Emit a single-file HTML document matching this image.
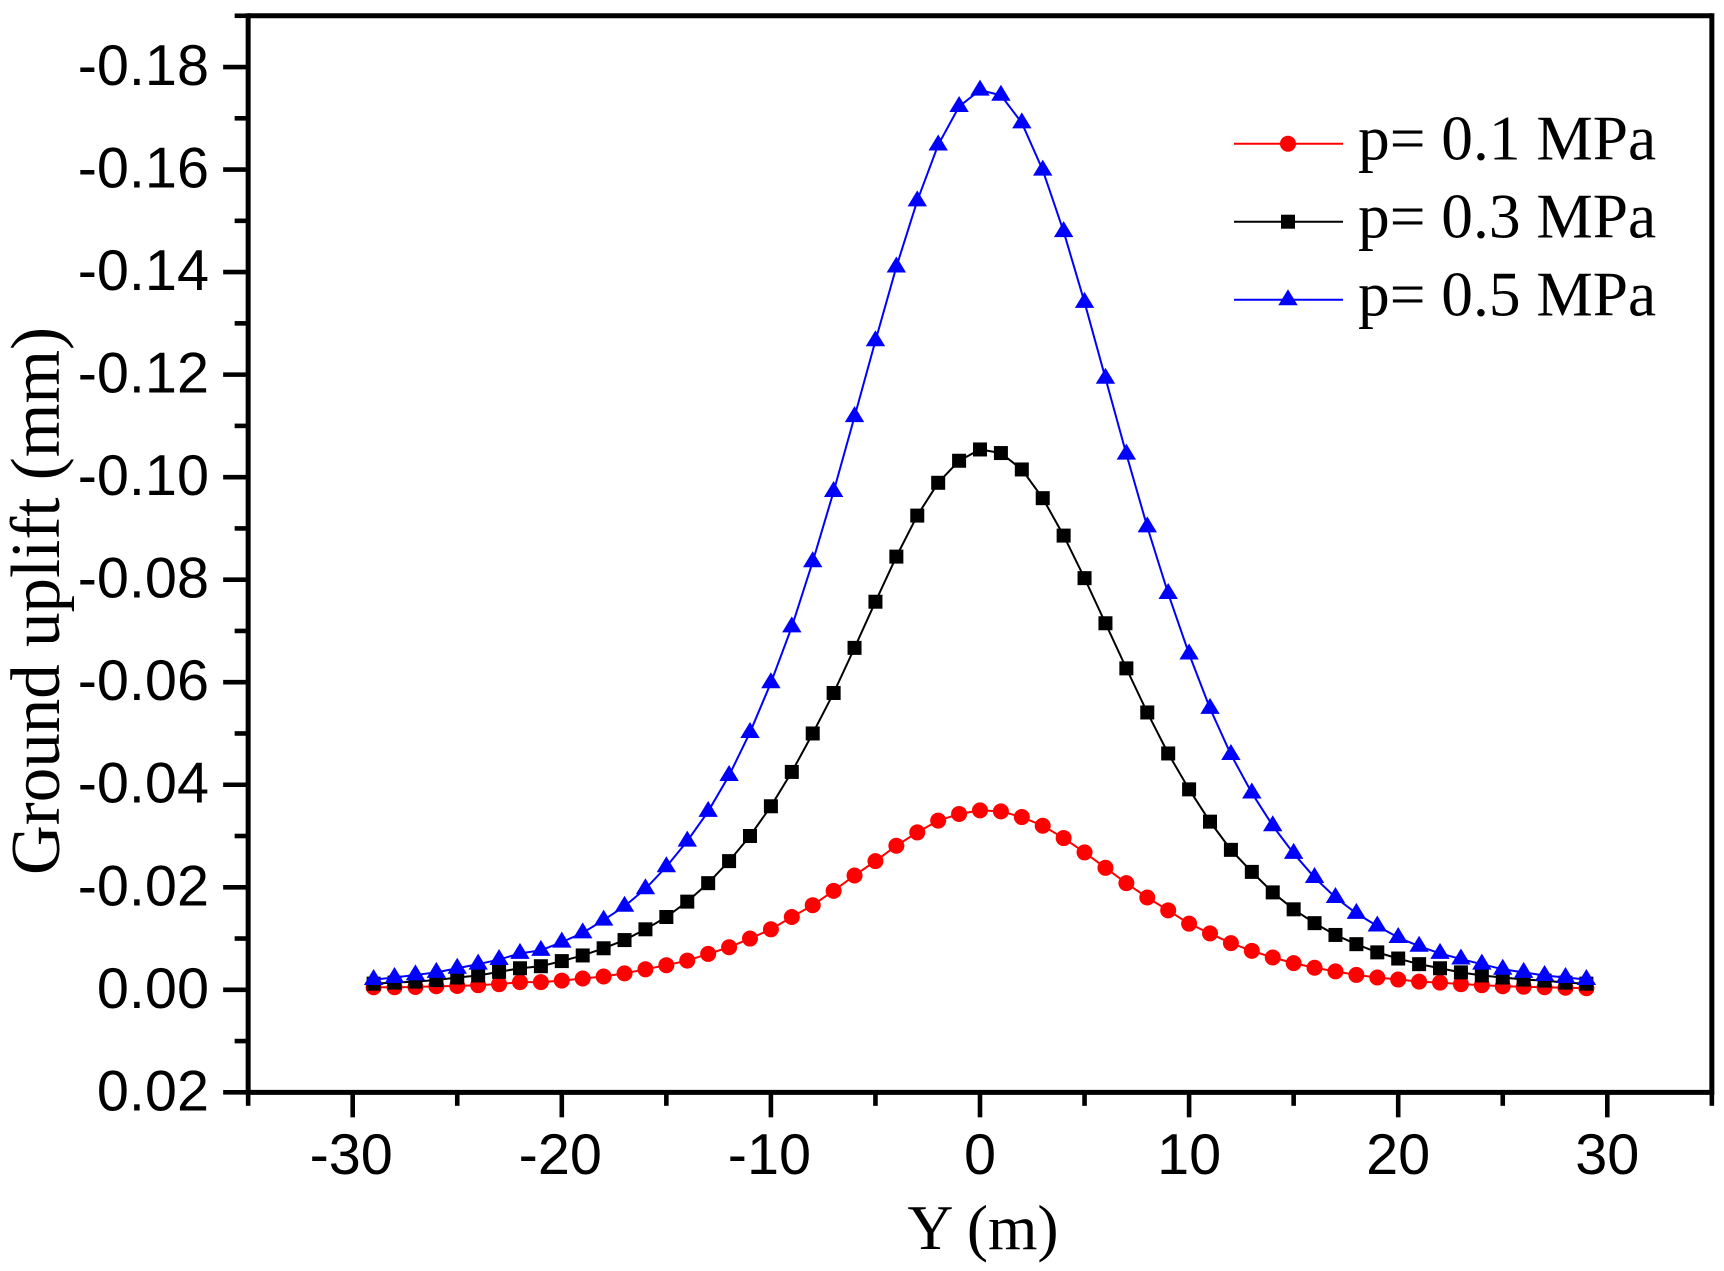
<!DOCTYPE html>
<html lang="en">
<head>
<meta charset="utf-8">
<title>Ground uplift chart</title>
<style>
html,body{margin:0;padding:0;background:#fff;}
svg{display:block;}
.tick-label{font-family:"Liberation Sans",sans-serif;font-size:57.6px;fill:#000;}
.axis-title{font-family:"Liberation Serif",serif;fill:#000;}
.legend-label{font-family:"Liberation Serif",serif;font-size:63.4px;fill:#000;}
</style>
</head>
<body>
<svg id="chart" xmlns="http://www.w3.org/2000/svg" width="1724" height="1271" viewBox="0 0 1724 1271"></svg>
<script>
const positions = [-29,-28,-27,-26,-25,-24,-23,-22,-21,-20,-19,-18,-17,-16,-15,-14,-13,-12,-11,-10,-9,-8,-7,-6,-5,-4,-3,-2,-1,0,1,2,3,4,5,6,7,8,9,10,11,12,13,14,15,16,17,18,19,20,21,22,23,24,25,26,27,28,29];
const upliftP01 = [-.0005,-.0005,-.00055,-.0007,-.00075,-.0009,-.0011,-.0015,-.0015,-.0018,-.0022,-.0026,-.0032,-.0040,-.0048,-.0057,-.0070,-.0083,-.0100,-.0118,-.0142,-.0165,-.0193,-.0223,-.0251,-.0281,-.0307,-.0330,-.0343,-.0350,-.0348,-.0337,-.0320,-.0296,-.0268,-.0238,-.0208,-.0180,-.0155,-.0129,-.0110,-.0091,-.0076,-.0063,-.0052,-.0043,-.0036,-.0029,-.0024,-.0020,-.0016,-.0014,-.0011,-.0009,-.0007,-.0006,-.0005,-.0004,-.0003];
const upliftP03 = [-.0012,-.0014,-.0016,-.0019,-.0024,-.0028,-.0035,-.0042,-.0046,-.0056,-.0067,-.0081,-.0097,-.0118,-.0142,-.0172,-.0208,-.0251,-.0300,-.0358,-.0425,-.0500,-.0579,-.0667,-.0757,-.0845,-.0925,-.0989,-.1032,-.1054,-.1047,-.1015,-.0959,-.0886,-.0803,-.0715,-.0627,-.0541,-.0461,-.0391,-.0328,-.0273,-.0230,-.0190,-.0157,-.0130,-.0107,-.0089,-.0073,-.0061,-.0050,-.0042,-.0034,-.0028,-.0024,-.0020,-.0018,-.0014,-.0012];
const upliftP05 = [-.0020,-.0024,-.0029,-.0034,-.0042,-.0050,-.0059,-.0071,-.0077,-.0093,-.0111,-.0136,-.0163,-.0197,-.0240,-.0290,-.0348,-.0418,-.0502,-.0599,-.0708,-.0835,-.0972,-.1118,-.1266,-.1410,-.1539,-.1648,-.1723,-.1755,-.1745,-.1691,-.1599,-.1479,-.1341,-.1193,-.1045,-.0903,-.0773,-.0655,-.0549,-.0459,-.0384,-.0320,-.0266,-.0219,-.0180,-.0149,-.01245,-.0102,-.0085,-.0071,-.0060,-.0050,-.0040,-.0034,-.0028,-.0024,-.0020];
const xMajorTicks = [-30,-20,-10,0,10,20,30];
const xMinorTicks = [-35,-25,-15,-5,5,15,25,35];
const yMajorTicks = [-0.18,-0.16,-0.14,-0.12,-0.10,-0.08,-0.06,-0.04,-0.02,0,0.02];
const yMinorTicks = [-0.19,-0.17,-0.15,-0.13,-0.11,-0.09,-0.07,-0.05,-0.03,-0.01,0.01];
const xTickLabels = ["-30","-20","-10","0","10","20","30"];
const yTickLabels = ["-0.18","-0.16","-0.14","-0.12","-0.10","-0.08","-0.06","-0.04","-0.02","0.00","0.02"];
const seriesNames = ["p= 0.1 MPa","p= 0.3 MPa","p= 0.5 MPa"];

const xScale = v => 980 + 20.91 * v;
const yScale = v => 989.8 + 5126.5 * v;

const svg = document.getElementById('chart');
const NS = 'http://www.w3.org/2000/svg';
function mk(tag, attrs, parent) {
  const el = document.createElementNS(NS, tag);
  for (const k in attrs) el.setAttribute(k, attrs[k]);
  (parent || svg).appendChild(el);
  return el;
}
function tri(cx, cy) {
  return (cx) + ',' + (cy - 10.5) + ' ' + (cx - 9.7) + ',' + (cy + 5.5) + ' ' + (cx + 9.7) + ',' + (cy + 5.5);
}
function drawMarker(kind, cx, cy, color, parent) {
  if (kind === 'circle') return mk('circle', {cx: cx, cy: cy, r: 8, fill: color}, parent);
  if (kind === 'square') return mk('rect', {x: cx - 7, y: cy - 7, width: 14, height: 14, fill: color}, parent);
  return mk('polygon', {points: tri(cx, cy), fill: color}, parent);
}

const axisL = xScale(-35), axisR = xScale(35), axisT = yScale(-0.19), axisB = yScale(0.02);

// Spines
const frame = mk('g', {stroke: '#000', 'stroke-width': 5, fill: 'none'});


mk('line', {x1: axisL, y1: axisT - 2.5, x2: axisL, y2: axisB + 2.5}, frame);
mk('line', {x1: axisR, y1: axisT - 2.5, x2: axisR, y2: axisB + 2.5}, frame);
mk('line', {x1: axisL, y1: axisT, x2: axisR, y2: axisT}, frame);
mk('line', {x1: axisL, y1: axisB, x2: axisR, y2: axisB}, frame);

// X ticks
const xAxis = mk('g', {});


xMajorTicks.forEach((v, i) => {
  mk('line', {x1: xScale(v), y1: axisB, x2: xScale(v), y2: axisB + 25, stroke: '#000', 'stroke-width': 4.6}, xAxis);
  const t = mk('text', {x: xScale(v) - (v < 0 ? 1.5 : 0), y: 1174, 'text-anchor': 'middle', class: 'tick-label'}, xAxis);
  t.textContent = xTickLabels[i];
  
  
});
xMinorTicks.forEach(v => {
  mk('line', {x1: xScale(v), y1: axisB, x2: xScale(v), y2: axisB + 13.5, stroke: '#000', 'stroke-width': 4.6}, xAxis);
});

// Y ticks
const yAxis = mk('g', {});


yMajorTicks.forEach((v, i) => {
  mk('line', {x1: axisL, y1: yScale(v), x2: axisL - 25, y2: yScale(v), stroke: '#000', 'stroke-width': 4.6}, yAxis);
  const t = mk('text', {x: 209, y: yScale(v) + 18, 'text-anchor': 'end', class: 'tick-label'}, yAxis);
  t.textContent = yTickLabels[i];
  
  
});
yMinorTicks.forEach(v => {
  mk('line', {x1: axisL, y1: yScale(v), x2: axisL - 13.5, y2: yScale(v), stroke: '#000', 'stroke-width': 4.6}, yAxis);
});

// Axis titles
const xTitle = mk('text', {x: 983, y: 1249, 'text-anchor': 'middle', class: 'axis-title', 'font-size': 63.5});
xTitle.textContent = 'Y (m)';


const yTitle = mk('text', {x: 0, y: 0, 'text-anchor': 'middle', class: 'axis-title', 'font-size': 69, transform: 'translate(59 601) rotate(-90) scale(1 1.02)'});
yTitle.textContent = 'Ground uplift (mm)';



// Series
const seriesData = [upliftP01, upliftP03, upliftP05];
const seriesColors = ['#ff0000', '#000000', '#0000ff'];
const seriesKinds = ['circle', 'square', 'triangle'];
seriesData.forEach((vals, s) => {
  const g = mk('g', {});
  
  
  const pts = vals.map((v, i) => xScale(positions[i]) + ',' + yScale(v)).join(' ');
  mk('polyline', {points: pts, fill: 'none', stroke: seriesColors[s], 'stroke-width': 2}, g);
  vals.forEach((v, i) => {
    drawMarker(seriesKinds[s], xScale(positions[i]), yScale(v), seriesColors[s], g);
  });
});

// Legend
const legendRows = [143.7, 221.7, 299.7];
const legend = mk('g', {});


seriesNames.forEach((name, i) => {
  const row = mk('g', {}, legend);
  
  
  mk('line', {x1: 1234, y1: legendRows[i], x2: 1343, y2: legendRows[i], stroke: seriesColors[i], 'stroke-width': 2}, row);
  drawMarker(seriesKinds[i], 1288, legendRows[i], seriesColors[i], row);
  const t = mk('text', {x: 1358, y: legendRows[i] + 16, class: 'legend-label'}, row);
  t.textContent = name;
});
</script>
</body>
</html>
